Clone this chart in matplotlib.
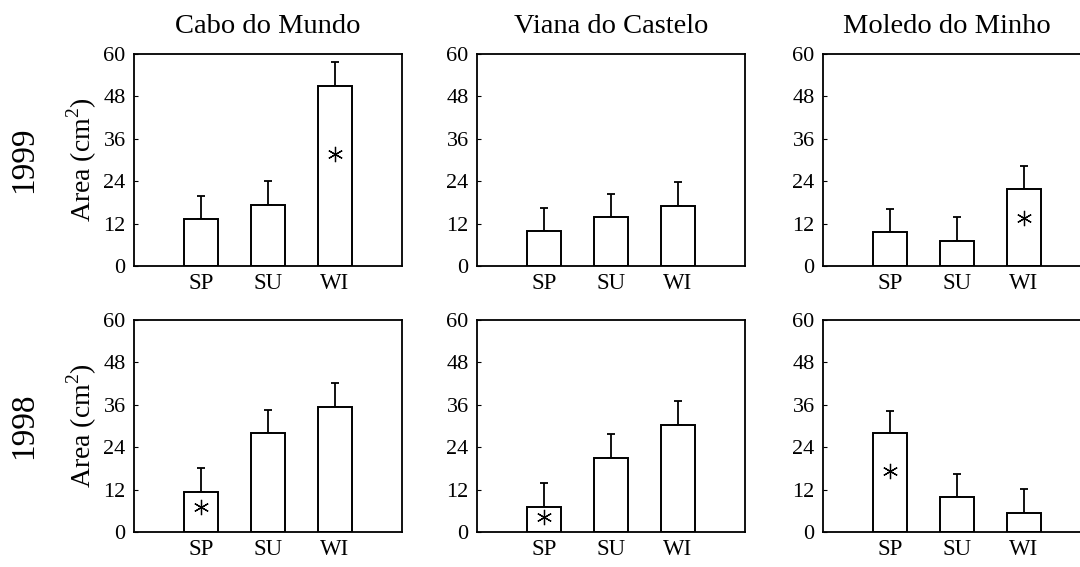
import matplotlib
matplotlib.use("Agg")
import matplotlib.pyplot as plt
import numpy as np

plt.rcParams['font.family'] = 'Liberation Serif'
plt.rcParams['mathtext.fontset'] = 'custom'
plt.rcParams['mathtext.rm'] = 'Liberation Serif'

seasons = ['SP', 'SU', 'WI']
sites = ['Cabo do Mundo', 'Viana do Castelo', 'Moledo do Minho']
years = ['1999', '1998']

# mean area (cm2) per site, one list per year
area_1999 = [[13.3, 17.4, 51.0],
             [9.9, 13.8, 17.1],
             [9.6, 7.2, 21.8]]
err_1999 = [[6.6, 6.7, 6.7],
            [6.5, 6.7, 6.6],
            [6.6, 6.7, 6.6]]
sig_1999 = [2, None, 2]

area_1998 = [[11.3, 28.1, 35.5],
             [7.0, 20.9, 30.4],
             [27.9, 10.0, 5.4]]
err_1998 = [[6.7, 6.5, 6.6],
            [6.8, 6.7, 6.7],
            [6.4, 6.5, 6.7]]
sig_1998 = [0, 0, 0]

areas = [area_1999, area_1998]
errs = [err_1999, err_1998]
sigs = [sig_1999, sig_1998]

W, H = 1080, 567
fig = plt.figure(figsize=(W / 100, H / 100), dpi=100)

col_left = [134, 477, 823]
row_top = [54, 320]
ax_w, ax_h = 268, 212
title_x = [0.5, 0.5, 0.463]

x = np.arange(1, 4)
for r in range(2):
    for c in range(3):
        ax = fig.add_axes([col_left[c] / W, (H - row_top[r] - ax_h) / H, ax_w / W, ax_h / H])
        vals = areas[r][c]
        e = errs[r][c]
        ax.bar(x, vals, width=0.5, color='white', edgecolor='black', linewidth=1.4, zorder=2)
        ax.errorbar(x, vals, yerr=[np.zeros(3), e], fmt='none', ecolor='black',
                    elinewidth=1.3, capsize=3, capthick=1.3, zorder=1)
        s = sigs[r][c]
        if s is not None:
            ax.plot(x[s], vals[s] * 0.62, marker=(6, 2, 0), markersize=11,
                    mew=0.9, color='black', linestyle='none', zorder=3)
        ax.set_xlim(0, 4)
        ax.set_ylim(0, 60)
        ax.set_yticks([0, 12, 24, 36, 48, 60])
        ax.set_xticks(x)
        ax.set_xticklabels(seasons)
        ax.tick_params(axis='y', direction='in', length=3, labelsize=16, pad=6)
        ax.tick_params(axis='x', length=0, labelsize=16.5, pad=5)
        for sp in ax.spines.values():
            sp.set_linewidth(1.3)
        if r == 0:
            ax.set_title(sites[c], fontsize=20.5, pad=15, x=title_x[c])
        if c == 0:
            ax.set_ylabel('Area (cm$^2$)', fontsize=20, labelpad=3)
            ax.text(-0.41, 0.5, years[r], transform=ax.transAxes, rotation=90,
                    fontsize=24, ha='center', va='center')

fig.savefig('out.png', dpi=100)
